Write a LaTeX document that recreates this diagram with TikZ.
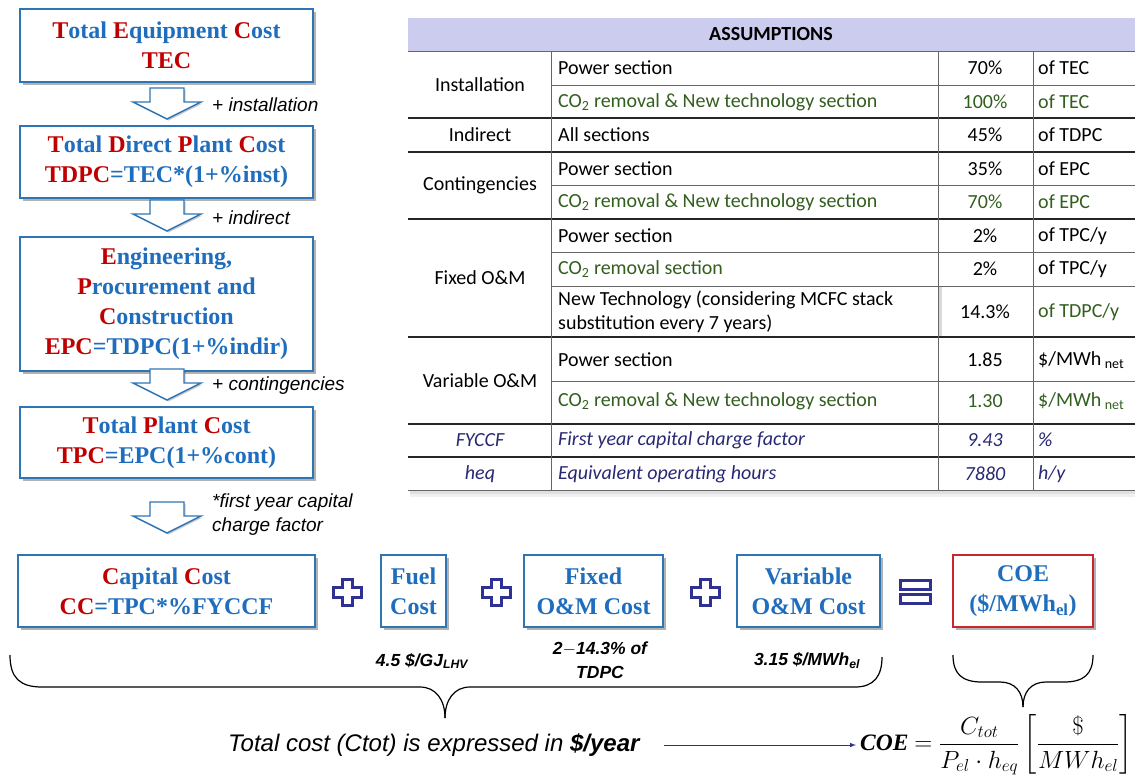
\documentclass[tikz,border=0pt]{standalone}
\usepackage{fontspec}
\usepackage{amsmath}
\setmainfont{Liberation Serif}
\setsansfont{Liberation Sans}
\newfontfamily\tabfont{Carlito}
\usetikzlibrary{shadows}

\definecolor{cred}{RGB}{192,0,0}
\definecolor{cblue}{RGB}{31,110,190}
\definecolor{bblue}{RGB}{46,117,182}
\definecolor{navy}{RGB}{46,49,146}
\definecolor{tgreen}{RGB}{50,94,30}
\definecolor{tnavy}{RGB}{40,40,115}
\definecolor{hdr}{RGB}{204,204,238}
\definecolor{coered}{RGB}{200,40,45}

\newcommand\R[1]{\textcolor{cred}{#1}}

% one data row of the assumptions table: id, y, colour/text of columns 2, 3, 4
\newcommand\tabrow[8]{%
  \node[tab,anchor=west,text=#3] (#1b) at (558,#2) {#4};
  \node[tab,text=#5] (#1c) at (985,#2) {#6};
  \node[tab,anchor=west,text=#7] (#1d) at (1038,#2) {#8};}

% hollow block arrow pointing down, top edge at y=#1
\newcommand\blockdown[1]{%
  \draw[barrow] (150,#1) -- (184,#1) -- (184,{#1+14}) -- (201,{#1+14})
    -- (167,{#1+31}) -- (133,{#1+14}) -- (150,{#1+14}) -- cycle;}

% hollow plus sign centred at (#1,#2)
\newcommand\plussign[2]{%
  \draw[opsym] ({#1-5},{#2-13}) -- ({#1+5},{#2-13}) -- ({#1+5},{#2-5})
    -- ({#1+14},{#2-5}) -- ({#1+14},{#2+5}) -- ({#1+5},{#2+5})
    -- ({#1+5},{#2+13}) -- ({#1-5},{#2+13}) -- ({#1-5},{#2+5})
    -- ({#1-14},{#2+5}) -- ({#1-14},{#2-5}) -- ({#1-5},{#2-5}) -- cycle;}

\begin{document}
\begin{tikzpicture}[x=1pt,y=-1pt,
  box/.style={draw=bblue, line width=1.5pt, fill=white, text=cblue,
    align=center, inner sep=0pt,
    font=\bfseries\fontsize{24}{30}\selectfont,
    drop shadow={shadow xshift=2.5pt, shadow yshift=-2.5pt, fill=black, opacity=0.3}},
  barrow/.style={draw=bblue, line width=1.4pt, fill=white, line join=miter,
    drop shadow={shadow xshift=1.5pt, shadow yshift=-1.5pt, fill=black, opacity=0.2}},
  opsym/.style={draw=navy, line width=3pt, line join=miter},
  note/.style={font=\sffamily\itshape\fontsize{19}{24}\selectfont, anchor=west, inner sep=0pt},
  val/.style={font=\sffamily\bfseries\itshape\fontsize{17.5}{24}\selectfont, align=center, inner sep=0pt},
  tab/.style={font=\tabfont\fontsize{20}{24}\selectfont, inner sep=0pt},
  thin/.style={draw=black!60, line width=0.7pt},
  thick/.style={draw=black!85, line width=1.8pt},
  brace/.style={draw=black, line width=1.2pt}]
\useasboundingbox (0,0) rectangle (1137,780);

% ---------- cost chain on the left ----------
\node[box, minimum width=293pt, minimum height=73pt] (tec) at (166.5,45.5)
  {\R{T}otal \R{E}quipment \R{C}ost\\\R{TEC}};
\node[box, minimum width=293pt, minimum height=72pt] (tdpc) at (166.5,162)
  {\R{T}otal \R{D}irect \R{P}lant \R{C}ost\\\R{TDPC}=TEC*(1+\%inst)};
\node[box, minimum width=293pt, minimum height=134pt] (epc) at (166.5,304)
  {\R{E}ngineering,\\\R{P}rocurement and\\\R{C}onstruction\\\R{EPC}=TDPC(1+\%indir)};
\node[box, minimum width=293pt, minimum height=71pt] (tpc) at (166.5,442.5)
  {\R{T}otal \R{P}lant \R{C}ost\\\R{TPC}=EPC(1+\%cont)};

\blockdown{88}
\blockdown{200}
\blockdown{369}
\blockdown{502}

\node[note] (n1) at (212,105) {+ installation};
\node[note] (n2) at (212,218) {+ indirect};
\node[note] (n3) at (212,386) {+ contingencies};
\node[note, align=left] (n4) at (212,515) {*first year capital\\charge factor};

% ---------- bottom row ----------
\node[box, minimum width=297pt, minimum height=72pt] (cc) at (166.5,591)
  {\R{C}apital \R{C}ost\\\R{CC}=TPC*\%FYCCF};
\node[box, minimum width=65pt, minimum height=72pt] (fuel) at (413.5,591)
  {Fuel\\Cost};
\node[box, minimum width=139pt, minimum height=72pt] (fix) at (593.5,591)
  {Fixed\\O\&M Cost};
\node[box, minimum width=143pt, minimum height=72pt] (var) at (808.5,591)
  {Variable\\O\&M Cost};
\node[box, draw=coered, minimum width=140pt, minimum height=72pt] (coe) at (1023,591)
  {COE\\(\$/MWh\textsubscript{el})};

\plussign{347}{592}
\plussign{496}{592}
\plussign{705}{592}
\draw[opsym] (900,580) rectangle (930,589);
\draw[opsym] (900,594) rectangle (930,603);

\node[val] (vfuel) at (422,661) {4.5 \$/GJ\textsubscript{LHV}};
\node[val] (vfix) at (600,660) {2$-$14.3\% of\\TDPC};
\node[val] (vvar) at (807,661) {3.15 \$/MWh\textsubscript{el}};

% braces
\draw[brace] (10,655) .. controls (10,678) and (20,687) .. (42,687) -- (420,687)
  .. controls (436,687) and (445,700) .. (445,718);
\draw[brace] (445,718) .. controls (445,700) and (454,687) .. (470,687) -- (855,687)
  .. controls (874,687) and (882,676) .. (882,657);
\draw[brace] (953,655) .. controls (953,674) and (962,682) .. (982,682) -- (1000,682)
  .. controls (1015,682) and (1023,692) .. (1023,707);
\draw[brace] (1023,707) .. controls (1023,692) and (1031,682) .. (1046,682) -- (1064,682)
  .. controls (1084,682) and (1093,674) .. (1093,655);

\node[note, font=\sffamily\itshape\fontsize{24}{28}\selectfont] (ctot) at (228,745)
  {Total cost (Ctot) is expressed in \textbf{\$/year}};
\node[anchor=west, inner sep=0pt, font=\fontsize{23.5}{28}\selectfont] (fml) at (860,745)
  {\textbf{\textit{COE}} $=\dfrac{C_{tot}}{P_{el}\cdot h_{eq}}\left[\dfrac{\$}{MWh_{el}}\right]$};
\draw[navy, line width=1pt, -latex, shorten <=24pt, shorten >=4pt] (ctot.east) -- (fml.west);

% ---------- assumptions table ----------
\fill[black, opacity=0.12] (410,490) rectangle (1135,494);
\fill[black, opacity=0.06] (410,494) rectangle (1135,497);
\fill[hdr] (408,18) rectangle (1135,51);
\node[tab, font=\tabfont\bfseries\fontsize{20}{24}\selectfont] (hd) at (771,34) {ASSUMPTIONS};
\fill[black, opacity=0.15] (938,286) rectangle (942,337);

\draw[thin] (408,51) -- (1135,51);
\foreach \yy in {85,185,252,286,381} \draw[thin] (551,\yy) -- (1135,\yy);
\foreach \yy in {118,152,219,337,424,457} \draw[thick] (408,\yy) -- (1135,\yy);
\draw[thin] (408,490) -- (1135,490);
\foreach \xx in {551,938,1033} \draw[thin] (\xx,51) -- (\xx,490);

\node[tab] (g1) at (480,85) {Installation};
\node[tab] (g2) at (480,135) {Indirect};
\node[tab] (g3) at (480,185) {Contingencies};
\node[tab] (g4) at (480,278) {Fixed O\&M};
\node[tab] (g5) at (480,381) {Variable O\&M};
\node[tab, text=tnavy, font=\tabfont\itshape\fontsize{20}{24}\selectfont] (g6) at (480,440) {FYCCF};
\node[tab, text=tnavy, font=\tabfont\itshape\fontsize{20}{24}\selectfont] (g7) at (480,474) {heq};

\tabrow{ra}{68}{black}{Power section}{black}{70\%}{black}{of TEC}
\tabrow{rb}{102}{tgreen}{CO\textsubscript{2} removal \& New technology section}{tgreen}{100\%}{tgreen}{of TEC}
\tabrow{rc}{135}{black}{All sections}{black}{45\%}{black}{of TDPC}
\tabrow{rd}{169}{black}{Power section}{black}{35\%}{black}{of EPC}
\tabrow{re}{202}{tgreen}{CO\textsubscript{2} removal \& New technology section}{tgreen}{70\%}{tgreen}{of EPC}
\tabrow{rf}{236}{black}{Power section}{black}{2\%}{black}{of TPC/y}
\tabrow{rg}{269}{tgreen}{CO\textsubscript{2} removal section}{black}{2\%}{black}{of TPC/y}
\node[tab, anchor=west, align=left] (rhb) at (558,312) {New Technology (considering MCFC stack\\substitution every 7 years)};
\node[tab] (rhc) at (985,312) {14.3\%};
\node[tab, anchor=west, text=tgreen] (rhd) at (1038,312) {of TDPC/y};
\tabrow{ri}{360}{black}{Power section}{black}{1.85}{black}{\$/MWh\,\textsubscript{net}}
\tabrow{rj}{401}{tgreen}{CO\textsubscript{2} removal \& New technology section}{tgreen}{1.30}{tgreen}{\$/MWh\,\textsubscript{net}}
\tabrow{rk}{440}{tnavy}{\itshape First year capital charge factor}{tnavy}{\itshape 9.43}{tnavy}{\itshape \%}
\tabrow{rl}{474}{tnavy}{\itshape Equivalent operating hours}{tnavy}{\itshape 7880}{tnavy}{\itshape h/y}
\end{tikzpicture}
\end{document}
